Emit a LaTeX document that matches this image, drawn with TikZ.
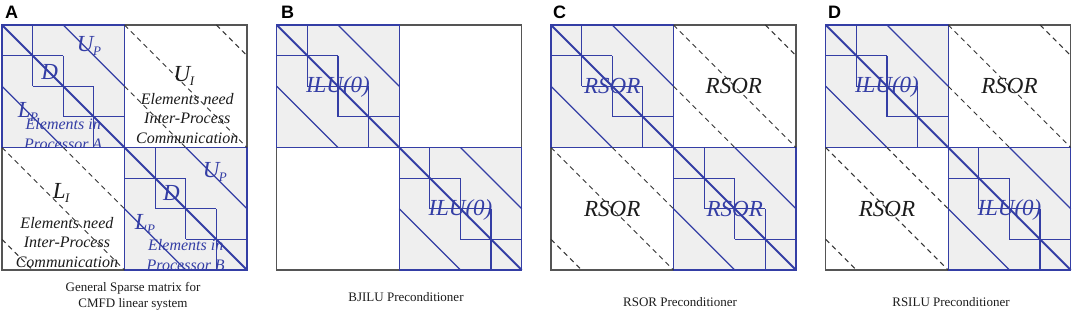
\documentclass[tikz,border=0pt]{standalone}
\usepackage{fontspec}
\setmainfont{Liberation Serif}
\newfontfamily\lblfont{Liberation Sans}
\definecolor{mblue}{RGB}{52,62,165}
\definecolor{mgray}{RGB}{85,85,85}
\definecolor{bfill}{RGB}{239,239,239}
\definecolor{tblack}{RGB}{28,28,28}
\newcommand\sbs[2]{\textit{#1}\kern-0.5pt\raisebox{-0.2em}{\fontsize{13}{13}\selectfont\textit{#2}}}
\tikzset{
  frame/.style={draw=mgray, line width=1.3pt},
  blockline/.style={draw=mblue, line width=1.2pt},
  maindiag/.style={draw=mblue, line width=1.9pt},
  dashline/.style={draw=black!80, line width=1pt, dash pattern=on 5pt off 4pt},
  big/.style={font=\fontsize{23}{23}\selectfont\itshape, inner sep=0pt},
  bigblue/.style={big, text=mblue},
  bigblack/.style={big, text=tblack},
  smalltxt/.style={font=\fontsize{16}{19.5}\selectfont\itshape, align=center, inner sep=0pt},
  captxt/.style={font=\fontsize{13}{16}\selectfont, text=tblack, align=center, inner sep=0pt},
  plabel/.style={font=\lblfont\bfseries\fontsize{18}{18}\selectfont, anchor=west, inner sep=0pt},
}
% #1 = 1 : draw dashed off-diagonal lines
\newcommand\panelbase[1]{%
  \fill[bfill] (0,0) rectangle (4,4);
  \fill[bfill] (4,4) rectangle (8,8);
  \draw[frame] (0,0) rectangle (8,8);
  \foreach \o in {0,4} {
    \draw[blockline] (\o,\o) rectangle ++(4,4);
    \draw[blockline] (\o+1,\o) -- (\o+1,\o+2);
    \draw[blockline] (\o,\o+1) -- (\o+2,\o+1);
    \draw[blockline] (\o+2,\o+1) -- (\o+2,\o+3);
    \draw[blockline] (\o+1,\o+2) -- (\o+3,\o+2);
    \draw[blockline] (\o+3,\o+2) -- (\o+3,\o+4);
    \draw[blockline] (\o+2,\o+3) -- (\o+4,\o+3);
  }
  \draw[blockline] (2,0) -- (4,2);
  \draw[blockline] (6,4) -- (8,6);
  \draw[blockline] (0,2) -- (2,4);
  \draw[blockline] (4,6) -- (6,8);
  \ifnum#1=1
    \draw[dashline] (4,2) -- (6,4);
    \draw[dashline] (2,4) -- (4,6);
    \draw[dashline] (4,0) -- (8,4);
    \draw[dashline] (0,4) -- (4,8);
    \draw[dashline] (7,0) -- (8,1);
    \draw[dashline] (0,7) -- (1,8);
  \fi
  \draw[maindiag] (0,0) -- (8,8);
}
\begin{document}
\begin{tikzpicture}[x=1pt,y=-1pt]
\useasboundingbox (0,0) rectangle (1072,313);
\fill[white] (0,0) rectangle (1072,313);

% Panel labels
\node[plabel] (lA) at (5,12) {A};
\node[plabel] (lB) at (281,12) {B};
\node[plabel] (lC) at (553,12) {C};
\node[plabel] (lD) at (828,12) {D};

% ---------- Panel A ----------
\begin{scope}[shift={(2,25)}, x=30.625pt, y=-30.625pt]
  \panelbase{1}
  \node[bigblue] (aD1) at (1.56,1.55) {D};
  \node[bigblue] (aU1) at (2.84,0.69) {\sbs{U}{P}};
  \node[bigblue] (aL1) at (0.85,2.84) {\sbs{L}{P}};
  \begin{scope}
    \clip (0,0) rectangle (4,4);
    \node[smalltxt, text=mblue] (aE1) at (2.0,3.56) {Elements in\\Processor A};
  \end{scope}
  \node[bigblack] (aUI) at (5.94,1.67) {\sbs{U}{I}};
  \node[smalltxt, text=tblack] (aT1) at (6.05,3.04) {Elements need\\Inter-Process\\Communication};
  \node[bigblack] (aLI) at (1.93,5.49) {\sbs{L}{I}};
  \node[smalltxt, text=tblack] (aT2) at (2.12,7.09) {Elements need\\Inter-Process\\Communication};
  \node[bigblue] (aD2) at (5.53,5.5) {D};
  \node[bigblue] (aU2) at (6.95,4.8) {\sbs{U}{P}};
  \node[bigblue] (aL2) at (4.67,6.5) {\sbs{L}{P}};
  \node[smalltxt, text=mblue] (aE2) at (6.0,7.51) {Elements in\\Processor B};
\end{scope}
\node[captxt] (capA) at (133,296) {General Sparse matrix for\\CMFD linear system};

% ---------- Panel B ----------
\begin{scope}[shift={(276.7,25)}, x=30.625pt, y=-30.625pt]
  \panelbase{0}
  \node[bigblue] (bI1) at (2,2.03) {ILU(0)};
  \node[bigblue] (bI2) at (6,6.03) {ILU(0)};
\end{scope}
\node[captxt] (capB) at (406,297) {BJILU Preconditioner};

% ---------- Panel C ----------
\begin{scope}[shift={(551,25)}, x=30.625pt, y=-30.625pt]
  \panelbase{1}
  \node[bigblue] (cR1) at (2,2) {RSOR};
  \node[bigblack] (cR2) at (5.97,2) {RSOR};
  \node[bigblack] (cR3) at (2,6) {RSOR};
  \node[bigblue] (cR4) at (6,6) {RSOR};
\end{scope}
\node[captxt] (capC) at (680,302) {RSOR Preconditioner};

% ---------- Panel D ----------
\begin{scope}[shift={(825.7,25)}, x=30.625pt, y=-30.625pt]
  \panelbase{1}
  \node[bigblue] (dI1) at (2,2.03) {ILU(0)};
  \node[bigblack] (dR2) at (6,2) {RSOR};
  \node[bigblack] (dR3) at (2,6) {RSOR};
  \node[bigblue] (dI2) at (6,6.03) {ILU(0)};
\end{scope}
\node[captxt] (capD) at (951,302) {RSILU Preconditioner};
\end{tikzpicture}
\end{document}
